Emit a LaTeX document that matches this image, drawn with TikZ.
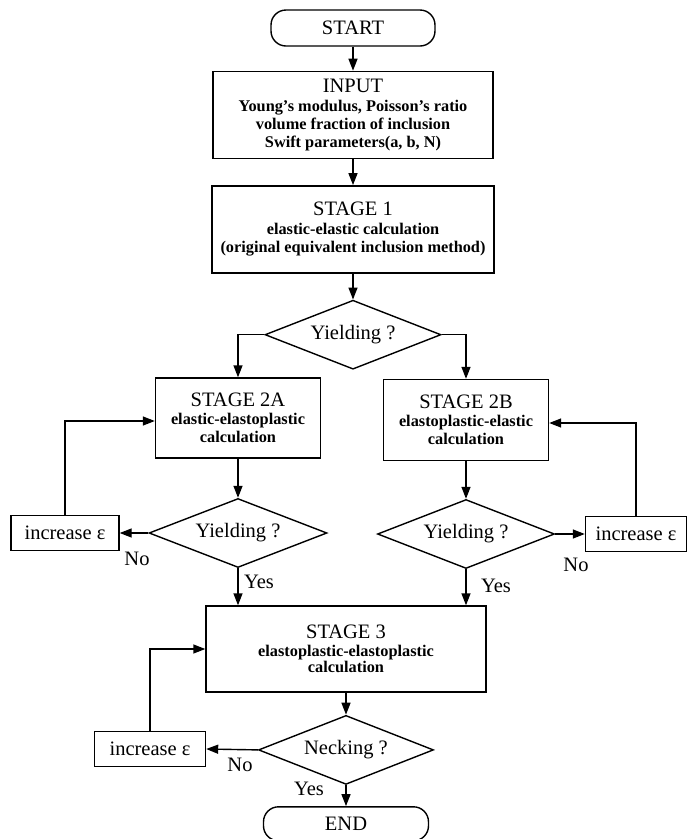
\documentclass[tikz,border=0pt]{standalone}
\usepackage{fontspec}
\setmainfont{Liberation Serif}
\usetikzlibrary{arrows.meta,positioning,shapes.geometric}
\newcommand{\titlef}{\fontsize{20.5}{22}\selectfont\mdseries}
\newcommand{\subf}{\fontsize{16.3}{17.8}\selectfont\bfseries}
\tikzset{
  termbox/.style={draw,line width=1.4pt,rounded corners=15pt,minimum width=164pt,minimum height=36pt,font=\titlef,inner sep=0pt},
  procbox/.style={draw,line width=1.4pt,align=center,font=\subf,inner sep=2pt},
  smallbox/.style={draw,line width=1.4pt,minimum height=35pt,font=\titlef,inner sep=0pt},
  decision/.style={draw,line width=1.4pt,diamond,aspect=2.5,inner sep=0pt,minimum width=176pt,minimum height=69pt,font=\titlef},
  lbl/.style={font=\titlef,inner sep=0pt},
  line/.style={-{Triangle[length=12pt,width=9pt]},line width=1.4pt}
}
\begin{document}
\begin{tikzpicture}[x=1pt,y=-1pt]
  \useasboundingbox (0,0) rectangle (688,839);
  % main column
  \node[termbox] (start) at (353,28) {START};
  \node[procbox,minimum width=280pt,minimum height=87pt,below=24pt of start] (input)
    {{\titlef INPUT}\\[1pt]Young's modulus, Poisson's ratio\\volume fraction of inclusion\\Swift parameters(a, b, N)};
  \node[procbox,minimum width=282pt,minimum height=87pt,below=26pt of input] (stage1)
    {{\titlef STAGE 1}\\[1pt]elastic-elastic calculation\\(original equivalent inclusion method)};
  \node[decision,below=26pt of stage1] (yield1) {Yielding ?};
  % two branches
  \node[procbox,minimum width=165pt,minimum height=80pt] (stage2a) at (238,418)
    {{\titlef STAGE 2A}\\[0pt]elastic-elastoplastic\\calculation};
  \node[procbox,minimum width=165pt,minimum height=81pt] (stage2b) at (466,420)
    {{\titlef STAGE 2B}\\[0pt]elastoplastic-elastic\\calculation};
  \node[decision,minimum width=178pt] (yield2a) at (238,533) {Yielding ?};
  \node[decision,minimum width=177pt] (yield2b) at (466,534) {Yielding ?};
  \node[smallbox,minimum width=108pt] (inc2a) at (65,533) {increase ε};
  \node[smallbox,minimum width=101pt] (inc2b) at (636,534) {increase ε};
  \node[lbl] (no2a) at (137,559) {No};
  \node[lbl] (yes2a) at (259,582) {Yes};
  \node[lbl] (no2b) at (576,565) {No};
  \node[lbl] (yes2b) at (496,586) {Yes};
  % last stage
  \node[procbox,minimum width=280pt,minimum height=86pt] (stage3) at (346,649)
    {{\titlef STAGE 3}\\[0pt]elastoplastic-elastoplastic\\[-2pt]calculation};
  \node[decision,minimum width=175pt,below=22pt of stage3] (neck) {Necking ?};
  \node[smallbox,minimum width=111pt] (inc3) at (150,749) {increase ε};
  \node[termbox,minimum width=165pt,minimum height=34pt,below=21pt of neck] (end) {END};
  \node[lbl] (no3) at (240,765) {No};
  \node[lbl] (yes3) at (309,789) {Yes};
  \draw[line] (start) -- (input);
  \draw[line] (input) -- (stage1);
  \draw[line] (stage1) -- (yield1);
  \draw[line] (yield1.west) -| (stage2a.north);
  \draw[line] (yield1.east) -| (stage2b.north);
  \draw[line] (stage2a) -- (yield2a);
  \draw[line] (stage2b) -- (yield2b);
  \draw[line] (yield2a.west) -- (inc2a.east);
  \draw[line] (yield2b.east) -- (inc2b.west);
  \draw[line] (inc2a.north) |- ([yshift=-3pt]stage2a.west);
  \draw[line] (inc2b.north) |- ([yshift=-3pt]stage2b.east);
  \draw[line] (yield2a.south) -- (yield2a.south |- stage3.north);
  \draw[line] (yield2b.south) -- (yield2b.south |- stage3.north);
  \draw[line] (stage3) -- (neck);
  \draw[line] (neck.west) -- (inc3.east);
  \draw[line] (inc3.north) |- (stage3.west);
  \draw[line] (neck) -- (end);
\end{tikzpicture}
\end{document}
